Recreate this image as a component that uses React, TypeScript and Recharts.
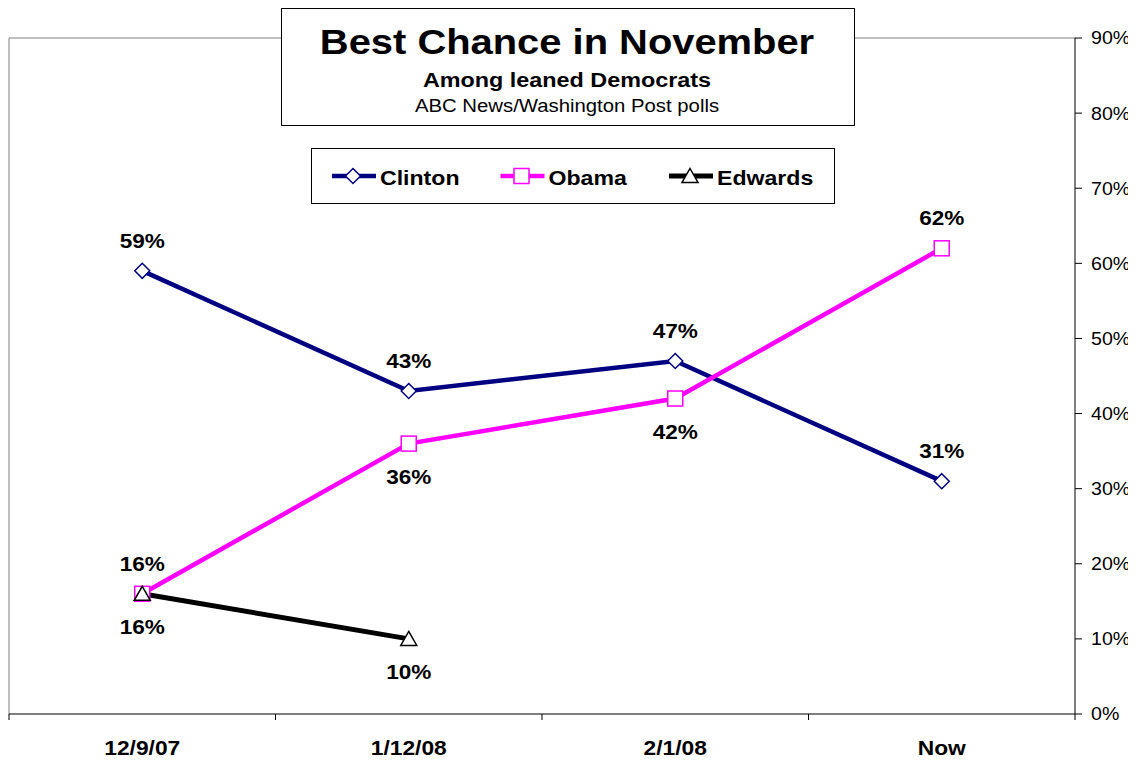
import React from 'react';
import { ComposedChart, Line, XAxis, YAxis, ReferenceLine, LabelList, Legend } from 'recharts';

const dates = ['12/9/07', '1/12/08', '2/1/08', 'Now'];
const clinton = [59, 43, 47, 31];
const obama = [16, 36, 42, 62];
const edwards: (number | null)[] = [16, 10, null, null];
const yTicks = [0, 10, 20, 30, 40, 50, 60, 70, 80, 90];

// where each value label sits relative to its point
const clintonSide = ['up', 'up', 'up', 'up'];
const obamaSide = ['up', 'down', 'down', 'up'];
const edwardsSide = ['down', 'down', 'down', 'down'];

const FONT = 'Arial, "Liberation Sans", Helvetica, sans-serif';

const data = dates.map((d, i) => ({
  x: i + 0.5,
  date: d,
  clinton: clinton[i],
  obama: obama[i],
  edwards: edwards[i],
}));

// integer ticks = category boundaries (tick marks), half ticks = category labels
const xTicks = dates.flatMap((_, i) => [i, i + 0.5]).concat(dates.length);

const series = [
  { key: 'clinton', name: 'Clinton', color: '#000080', width: 4.5, marker: 'diamond', sides: clintonSide },
  { key: 'obama', name: 'Obama', color: '#FF00FF', width: 4.5, marker: 'square', sides: obamaSide },
  { key: 'edwards', name: 'Edwards', color: '#000000', width: 5, marker: 'triangle', sides: edwardsSide },
];

function Marker({ cx, cy, type, color }: { cx: number; cy: number; type: string; color: string }) {
  if (type === 'diamond') {
    return <path d={`M${cx},${cy - 7.5}L${cx + 7.5},${cy}L${cx},${cy + 7.5}L${cx - 7.5},${cy}Z`} fill="#fff" stroke={color} strokeWidth={1.5} />;
  }
  if (type === 'square') {
    return <rect x={cx - 7.5} y={cy - 7.5} width={15} height={15} fill="#fff" stroke={color} strokeWidth={1.5} />;
  }
  return <path d={`M${cx},${cy - 7.5}L${cx + 8},${cy + 6.5}L${cx - 8},${cy + 6.5}Z`} fill="#fff" stroke={color} strokeWidth={1.5} />;
}

const makeDot = (type: string, color: string) => (p: any) => {
  if (p.cy == null || p.value == null || isNaN(p.cy)) return <g key={p.index} />;
  return <Marker key={p.index} cx={p.cx} cy={p.cy} type={type} color={color} />;
};

const makeLabel = (sides: string[]) => (props: any) => {
  const vb = props.viewBox || {};
  const x = props.x ?? vb.x;
  const y = props.y ?? vb.y;
  const { value, index } = props;
  if (value == null || x == null || y == null) return null;
  const dy = sides[index] === 'down' ? 40 : -23;
  return (
    <g transform={`translate(${x},${y + dy}) scale(1.13,1)`}>
      <text textAnchor="middle" fontFamily={FONT} fontWeight="bold" fontSize={20} fill="#000">{value}%</text>
    </g>
  );
};

const XTick = (props: any) => {
  const { x, y, payload } = props;
  const v = payload.value;
  if (Number.isInteger(v)) {
    return <line x1={x} x2={x} y1={y} y2={y + 6} stroke="#000" strokeWidth={1} />;
  }
  return (
    <g transform={`translate(${x},${y + 40.5}) scale(1.14,1)`}>
      <text textAnchor="middle" fontFamily={FONT} fontWeight="bold" fontSize={20} fill="#000">{dates[Math.floor(v)]}</text>
    </g>
  );
};

const YTick = (props: any) => {
  const { x, y, payload } = props;
  return (
    <g transform={`translate(${x},${y}) scale(1.09,1)`}>
      <text textAnchor="start" dy="0.36em" fontFamily={FONT} fontSize={18} fill="#000">{payload.value}%</text>
    </g>
  );
};

const LegendBox = () => (
  <svg width={525} height={57} style={{ display: 'block' }}>
    <rect x={0.5} y={0.5} width={523} height={55} fill="#fff" stroke="#000" strokeWidth={1} />
    {series.map((s, i) => {
      const x0 = 21 + i * 168.5;
      return (
        <g key={s.key}>
          <line x1={x0} x2={x0 + 44} y1={28} y2={28} stroke={s.color} strokeWidth={s.width} />
          <Marker cx={x0 + 21} cy={28} type={s.marker} color={s.color} />
          <g transform={`translate(${x0 + 48},37) scale(1.1,1)`}>
            <text fontFamily={FONT} fontWeight="bold" fontSize={21} fill="#000">{s.name}</text>
          </g>
        </g>
      );
    })}
  </svg>
);

export default function App() {
  return (
    <div style={{ position: 'relative', width: 1128, height: 750 }}>
      <ComposedChart width={1128} height={750} data={data} margin={{ top: 30, right: 8, left: 1, bottom: 0 }}>
        <XAxis
          dataKey="x"
          type="number"
          domain={[0, dates.length]}
          ticks={xTicks}
          interval={0}
          tickSize={0}
          tickMargin={0}
          tickLine={false}
          tick={<XTick />}
          height={44}
          stroke="#000"
          allowDataOverflow
        />
        <YAxis
          orientation="right"
          domain={[0, 90]}
          ticks={yTicks}
          interval={0}
          width={53}
          tickSize={7}
          tickMargin={9}
          tick={<YTick />}
          stroke="#000"
          allowDataOverflow
        />
        <ReferenceLine y={90} stroke="#808080" strokeWidth={1} />
        <ReferenceLine x={0} stroke="#808080" strokeWidth={1} />
        <Legend
          layout="vertical"
          align="center"
          verticalAlign="middle"
          wrapperStyle={{ top: 140, left: 303, width: 525, height: 57 }}
          content={<LegendBox />}
        />
        {series.map((s) => (
          <Line
            key={s.key}
            dataKey={s.key}
            name={s.name}
            stroke={s.color}
            strokeWidth={s.width}
            dot={makeDot(s.marker, s.color)}
            activeDot={false}
            isAnimationActive={false}
            connectNulls={false}
          >
            <LabelList dataKey={s.key} content={makeLabel(s.sides)} />
          </Line>
        ))}
      </ComposedChart>
      <svg width={575} height={119} style={{ position: 'absolute', left: 273, top: 0, zIndex: 2 }}>
        <rect x={0.5} y={0.5} width={573} height={117} fill="#fff" stroke="#000" strokeWidth={1} />
        <g transform="translate(286,45.5) scale(1.14,1)">
          <text textAnchor="middle" fontFamily={FONT} fontWeight="bold" fontSize={35} fill="#000">Best Chance in November</text>
        </g>
        <g transform="translate(286,79) scale(1.14,1)">
          <text textAnchor="middle" fontFamily={FONT} fontWeight="bold" fontSize={20.5} fill="#000">Among leaned Democrats</text>
        </g>
        <g transform="translate(286,104) scale(1.13,1)">
          <text textAnchor="middle" fontFamily={FONT} fontSize={18} fill="#000">ABC News/Washington Post polls</text>
        </g>
      </svg>
    </div>
  );
}
